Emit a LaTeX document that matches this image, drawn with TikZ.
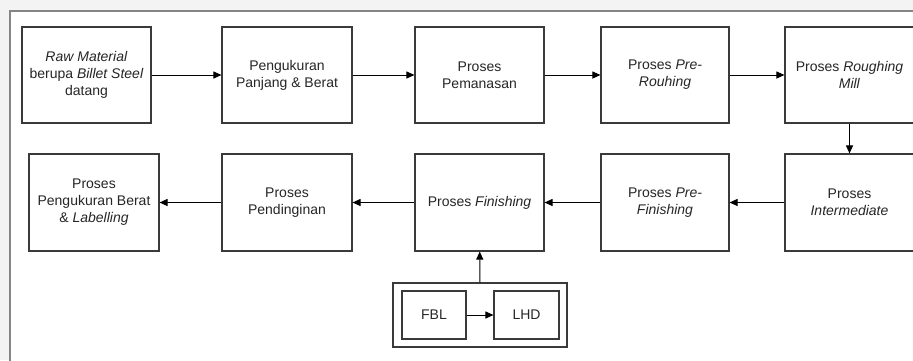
\documentclass[tikz,border=0pt]{standalone}
\usepackage{fontspec}
\setmainfont{Liberation Sans}
\usetikzlibrary{arrows.meta}
\definecolor{framegray}{HTML}{858585}
\definecolor{bggray}{HTML}{F3F3F3}
\definecolor{boxline}{HTML}{3A3A3A}
\definecolor{txt}{HTML}{262626}
\begin{document}
\begin{tikzpicture}[x=1pt,y=-1pt,
  procbox/.style={draw=boxline, line width=1.1pt, fill=white, minimum width=129pt, minimum height=96pt,
    align=center, font=\fontsize{14}{17}\selectfont, text=txt, inner sep=2pt},
  smallbox/.style={draw=boxline, line width=1.1pt, fill=white, minimum width=64pt, minimum height=48pt,
    align=center, font=\fontsize{14}{17}\selectfont, text=txt, inner sep=2pt},
  flow/.style={-{Triangle[length=8pt,width=7pt]}, line width=1pt, draw=black}]
\useasboundingbox (0,0) rectangle (913,360);
\clip (0,0) rectangle (913,360);
\fill[bggray] (0,0) rectangle (913,360);
\draw[framegray, line width=2pt, fill=white] (10,11) rectangle (935,385);

% row 1
\node[procbox] (b1) at (86.5,75) {\textit{Raw Material}\\berupa \textit{Billet Steel}\\datang};
\node[procbox, minimum width=130pt] (b2) at (287,75) {Pengukuran\\Panjang \& Berat};
\node[procbox] (b3) at (479.5,75) {Proses\\Pemanasan};
\node[procbox, minimum width=128pt] (b4) at (665,75) {Proses \textit{Pre-}\\\textit{Rouhing}};
\node[procbox] (b5) at (849.5,75) {Proses \textit{Roughing}\\\textit{Mill}};

% row 2
\node[procbox, minimum width=130pt, minimum height=97pt] (r1) at (94,202.5) {Proses\\Pengukuran Berat\\\& \textit{Labelling}};
\node[procbox, minimum width=130pt, minimum height=97pt] (r2) at (287,202.5) {Proses\\Pendinginan};
\node[procbox, minimum height=97pt] (r3) at (479.5,202.5) {Proses \textit{Finishing}};
\node[procbox, minimum width=128pt, minimum height=97pt] (r4) at (665,202.5) {Proses \textit{Pre-}\\\textit{Finishing}};
\node[procbox, minimum height=97pt] (r5) at (849.5,202.5) {Proses\\\textit{Intermediate}};

% group
\node[draw=boxline, line width=1.1pt, fill=white, minimum width=174pt, minimum height=64pt, inner sep=0pt] (grp) at (480,315) {};
\node[smallbox] (fbl) at (434,315) {FBL};
\node[smallbox, minimum width=65pt] (lhd) at (526.5,315) {LHD};

% connectors
\draw[flow] (b1) -- (b2);
\draw[flow] (b2) -- (b3);
\draw[flow] (b3) -- (b4);
\draw[flow] (b4) -- (b5);
\draw[flow] (b5) -- (r5);
\draw[flow] (r5) -- (r4);
\draw[flow] (r4) -- (r3);
\draw[flow] (r3) -- (r2);
\draw[flow] (r2) -- (r1);
\draw[flow] (fbl) -- (lhd);
\draw[flow] (grp) -- (r3);
\end{tikzpicture}
\end{document}
